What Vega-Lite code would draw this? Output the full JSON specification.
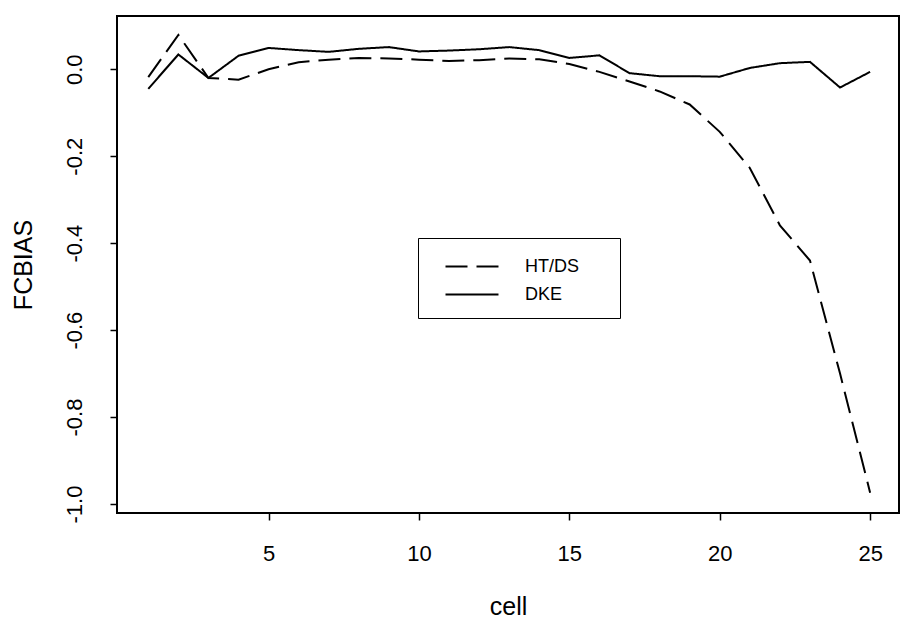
{
  "$schema": "https://vega.github.io/schema/vega-lite/v6.json",
  "width": 782,
  "height": 497,
  "autosize": {"type": "none"},
  "padding": {"left": 117, "top": 16, "right": 1, "bottom": 111},
  "background": "white",
  "config": {
    "font": "Liberation Sans",
    "view": {"stroke": "black", "strokeWidth": 2},
    "axis": {
      "domain": false,
      "grid": false,
      "tickColor": "black",
      "tickWidth": 1.5,
      "tickSize": 7,
      "labelColor": "black",
      "titleColor": "black",
      "labelFont": "Liberation Sans",
      "titleFont": "Liberation Sans",
      "titleFontWeight": "normal"
    }
  },
  "data": {
    "values": [
      {"cell": 1, "method": "HT/DS", "FCBIAS": -0.018},
      {"cell": 2, "method": "HT/DS", "FCBIAS": 0.079},
      {"cell": 3, "method": "HT/DS", "FCBIAS": -0.020},
      {"cell": 4, "method": "HT/DS", "FCBIAS": -0.024},
      {"cell": 5, "method": "HT/DS", "FCBIAS": 0.000},
      {"cell": 6, "method": "HT/DS", "FCBIAS": 0.016},
      {"cell": 7, "method": "HT/DS", "FCBIAS": 0.022},
      {"cell": 8, "method": "HT/DS", "FCBIAS": 0.026},
      {"cell": 9, "method": "HT/DS", "FCBIAS": 0.025},
      {"cell": 10, "method": "HT/DS", "FCBIAS": 0.022},
      {"cell": 11, "method": "HT/DS", "FCBIAS": 0.019},
      {"cell": 12, "method": "HT/DS", "FCBIAS": 0.021},
      {"cell": 13, "method": "HT/DS", "FCBIAS": 0.025},
      {"cell": 14, "method": "HT/DS", "FCBIAS": 0.023},
      {"cell": 15, "method": "HT/DS", "FCBIAS": 0.012},
      {"cell": 16, "method": "HT/DS", "FCBIAS": -0.006},
      {"cell": 17, "method": "HT/DS", "FCBIAS": -0.028},
      {"cell": 18, "method": "HT/DS", "FCBIAS": -0.051},
      {"cell": 19, "method": "HT/DS", "FCBIAS": -0.081},
      {"cell": 20, "method": "HT/DS", "FCBIAS": -0.144},
      {"cell": 21, "method": "HT/DS", "FCBIAS": -0.227},
      {"cell": 22, "method": "HT/DS", "FCBIAS": -0.359},
      {"cell": 23, "method": "HT/DS", "FCBIAS": -0.440},
      {"cell": 24, "method": "HT/DS", "FCBIAS": -0.700},
      {"cell": 25, "method": "HT/DS", "FCBIAS": -0.974},
      {"cell": 1, "method": "DKE", "FCBIAS": -0.045},
      {"cell": 2, "method": "DKE", "FCBIAS": 0.034},
      {"cell": 3, "method": "DKE", "FCBIAS": -0.020},
      {"cell": 4, "method": "DKE", "FCBIAS": 0.031},
      {"cell": 5, "method": "DKE", "FCBIAS": 0.049},
      {"cell": 6, "method": "DKE", "FCBIAS": 0.044},
      {"cell": 7, "method": "DKE", "FCBIAS": 0.040},
      {"cell": 8, "method": "DKE", "FCBIAS": 0.047},
      {"cell": 9, "method": "DKE", "FCBIAS": 0.051},
      {"cell": 10, "method": "DKE", "FCBIAS": 0.041},
      {"cell": 11, "method": "DKE", "FCBIAS": 0.043},
      {"cell": 12, "method": "DKE", "FCBIAS": 0.046},
      {"cell": 13, "method": "DKE", "FCBIAS": 0.051},
      {"cell": 14, "method": "DKE", "FCBIAS": 0.044},
      {"cell": 15, "method": "DKE", "FCBIAS": 0.026},
      {"cell": 16, "method": "DKE", "FCBIAS": 0.032},
      {"cell": 17, "method": "DKE", "FCBIAS": -0.009},
      {"cell": 18, "method": "DKE", "FCBIAS": -0.016},
      {"cell": 19, "method": "DKE", "FCBIAS": -0.016},
      {"cell": 20, "method": "DKE", "FCBIAS": -0.017},
      {"cell": 21, "method": "DKE", "FCBIAS": 0.003},
      {"cell": 22, "method": "DKE", "FCBIAS": 0.014},
      {"cell": 23, "method": "DKE", "FCBIAS": 0.017},
      {"cell": 24, "method": "DKE", "FCBIAS": -0.042},
      {"cell": 25, "method": "DKE", "FCBIAS": -0.006}
    ]
  },
  "mark": {"type": "line", "color": "black", "strokeWidth": 2, "strokeCap": "butt"},
  "encoding": {
    "x": {
      "field": "cell",
      "type": "quantitative",
      "scale": {"domain": [-0.04, 25.96], "nice": false, "zero": false},
      "axis": {
        "values": [5, 10, 15, 20, 25],
        "labelFontSize": 22,
        "labelPadding": 23,
        "title": "cell",
        "titleFontSize": 25,
        "titlePadding": 30
      }
    },
    "y": {
      "field": "FCBIAS",
      "type": "quantitative",
      "scale": {"domain": [-1.0207, 0.1225], "nice": false, "zero": false},
      "axis": {
        "values": [0, -0.2, -0.4, -0.6, -0.8, -1.0],
        "labelExpr": "replace(format(datum.value, '.1f'), '\u2212', '-')",
        "labelAngle": -90,
        "labelAlign": "center",
        "labelBaseline": "alphabetic",
        "labelFontSize": 22,
        "labelPadding": 29,
        "title": "FCBIAS",
        "titleFontSize": 25,
        "titlePadding": 27
      }
    },
    "strokeDash": {
      "field": "method",
      "type": "nominal",
      "scale": {"domain": ["HT/DS", "DKE"], "range": [[22, 9], [1, 0]]},
      "legend": {
        "orient": "none",
        "legendX": 301,
        "legendY": 222,
        "title": "\u00a0",
        "titleOrient": "right",
        "titleFontSize": 2,
        "titlePadding": 27,
        "strokeColor": "black",
        "fillColor": "white",
        "padding": 14,
        "rowPadding": 4,
        "symbolType": "M0,0H4",
        "symbolSize": 702,
        "symbolStrokeWidth": 2,
        "symbolStrokeColor": "black",
        "symbolOffset": -1,
        "labelOffset": 65,
        "labelFontSize": 18,
        "labelColor": "black"
      }
    }
  }
}
